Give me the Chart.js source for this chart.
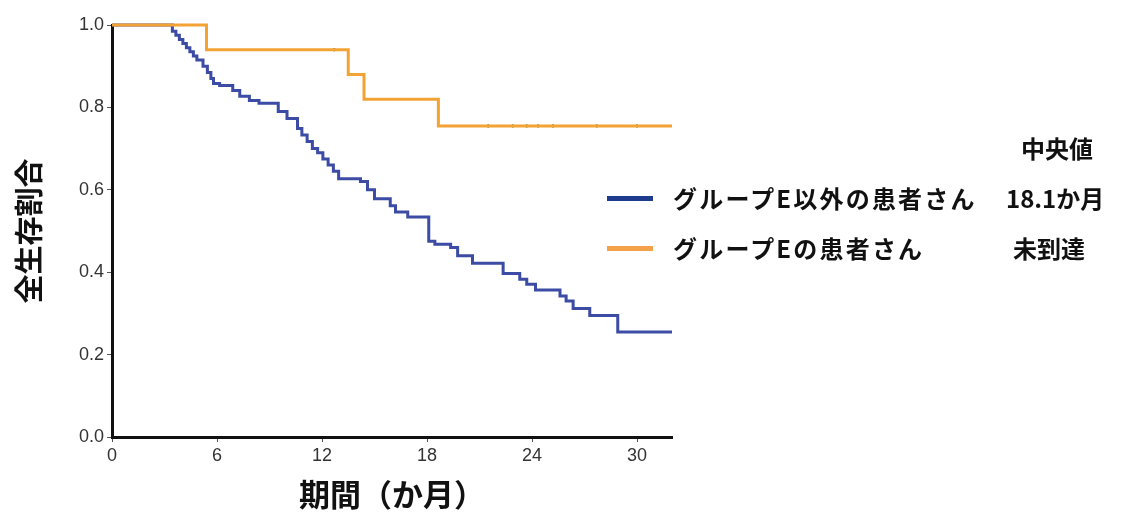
<!DOCTYPE html>
<html>
<head>
<meta charset="utf-8">
<script src="https://cdn.jsdelivr.net/npm/chart.js@4"></script>
<style>
  body { margin: 0; background: #fff; }
  #wrap { position: relative; width: 1124px; height: 515px; }
  .lg { position: absolute; font-family: "Noto Sans CJK JP", sans-serif; font-weight: bold; font-size: 24px; color: #111; line-height: 30px; white-space: nowrap; }
  .wide { letter-spacing: 2.2px; }
  .swatch { position: absolute; width: 46px; height: 5px; }
</style>
</head>
<body>
<div id="wrap">
  <canvas id="km"></canvas>
  <div class="lg" style="left:1021px; top:133px;">中央値</div>
  <div class="swatch" style="left:607px; top:196px; background:#1f3b8e;"></div>
  <div class="lg wide" style="left:673px; top:183px;">グループE以外の患者さん</div>
  <div class="lg" style="left:1006px; top:183px;">18.1か月</div>
  <div class="swatch" style="left:607px; top:246px; background:#f4a24a;"></div>
  <div class="lg wide" style="left:673px; top:233px;">グループEの患者さん</div>
  <div class="lg" style="left:1013px; top:233px;">未到達</div>
</div>
<script>
// Kaplan-Meier steps: time of event (months) and survival after it
const otherTimes = [0, 3.45, 3.65, 3.85, 4.05, 4.25, 4.45, 4.65, 4.85, 5.2, 5.45, 5.65, 5.8, 6.15, 6.9, 7.3, 7.85, 8.4, 9.5, 10.0, 10.6, 10.85, 11.15, 11.45, 11.75, 12.05, 12.35, 12.65, 12.95, 14.2, 14.6, 15.0, 15.9, 16.2, 16.9, 18.1, 18.45, 19.35, 19.75, 20.6, 22.35, 23.3, 23.7, 24.2, 25.6, 25.95, 26.35, 27.3, 28.9, 32];
const otherSurv = [1.0, 0.985, 0.975, 0.965, 0.955, 0.945, 0.935, 0.925, 0.915, 0.90, 0.885, 0.87, 0.858, 0.853, 0.841, 0.827, 0.817, 0.81, 0.79, 0.773, 0.749, 0.733, 0.717, 0.70, 0.69, 0.675, 0.66, 0.645, 0.627, 0.62, 0.60, 0.578, 0.561, 0.546, 0.534, 0.475, 0.468, 0.46, 0.44, 0.422, 0.397, 0.383, 0.371, 0.357, 0.342, 0.33, 0.312, 0.295, 0.255, 0.255];

const groupETimes = [0, 5.4, 13.5, 14.4, 18.65, 32];
const groupESurv = [1.0, 0.94, 0.88, 0.82, 0.755, 0.755];

// censored patients in group E
const censorTimes = [12.7, 21.5, 22.9, 23.7, 24.35, 25.2, 27.7, 30.0];
const censorSurv = [0.94, 0.755, 0.755, 0.755, 0.755, 0.755, 0.755, 0.755];

const xTicks = [0, 6, 12, 18, 24, 30];
const yTicks = [0, 0.2, 0.4, 0.6, 0.8, 1.0];

const toPoints = (xs, ys) => xs.map((x, i) => ({ x: x, y: ys[i] }));

const tickFont = { family: '"Liberation Sans", Arial, sans-serif', size: 18 };
const titleFont = { family: '"Noto Sans CJK JP", sans-serif', size: 29, weight: 'bold' };

new Chart(document.getElementById('km'), {
  type: 'line',
  data: {
    datasets: [
      {
        label: 'グループEの患者さん',
        data: toPoints(groupETimes, groupESurv),
        borderColor: '#f3a234',
        borderWidth: 3,
        stepped: true,
        pointRadius: 0,
        clip: false,
      },
      {
        label: 'グループE以外の患者さん',
        data: toPoints(otherTimes, otherSurv),
        borderColor: '#3c4ca4',
        borderWidth: 3,
        stepped: true,
        pointRadius: 0,
        clip: false,
      },
      {
        label: 'censored',
        data: toPoints(censorTimes, censorSurv),
        showLine: false,
        pointStyle: 'circle',
        pointRadius: 1.3,
        pointBorderWidth: 1,
        pointBackgroundColor: '#5e8a3a',
        pointBorderColor: '#5e8a3a',
        clip: false,
      },
    ],
  },
  options: {
    responsive: true,
    maintainAspectRatio: false,
    animation: false,
    layout: { padding: { left: 0, right: 452, top: 25, bottom: 0 } },
    plugins: { legend: { display: false }, tooltip: { enabled: false } },
    scales: {
      x: {
        type: 'linear',
        min: 0,
        max: 32,
        afterBuildTicks: (scale) => { scale.ticks = xTicks.map((v) => ({ value: v })); },
        afterFit: (scale) => { scale.height = 78; },
        ticks: { font: tickFont, color: '#333', padding: 3, maxRotation: 0 },
        grid: { drawOnChartArea: false, drawTicks: true, tickLength: 5, color: '#555' },
        border: { display: true, color: '#111', width: 3 },
        title: { display: true, text: '期間（か月）', font: { ...titleFont, size: 31 }, color: '#111', padding: { top: 0, bottom: 2 } },
      },
      y: {
        min: 0,
        max: 1,
        afterBuildTicks: (scale) => { scale.ticks = yTicks.map((v) => ({ value: v })); },
        afterFit: (scale) => { scale.width = 112; },
        ticks: { font: tickFont, color: '#333', padding: 3, callback: (v) => v.toFixed(1) },
        grid: { drawOnChartArea: false, drawTicks: true, tickLength: 5, color: '#555' },
        border: { display: true, color: '#111', width: 3 },
        title: { display: true, text: '全生存割合', font: titleFont, color: '#111', padding: { top: 12, bottom: 0 } },
      },
    },
  },
});
</script>
</body>
</html>
